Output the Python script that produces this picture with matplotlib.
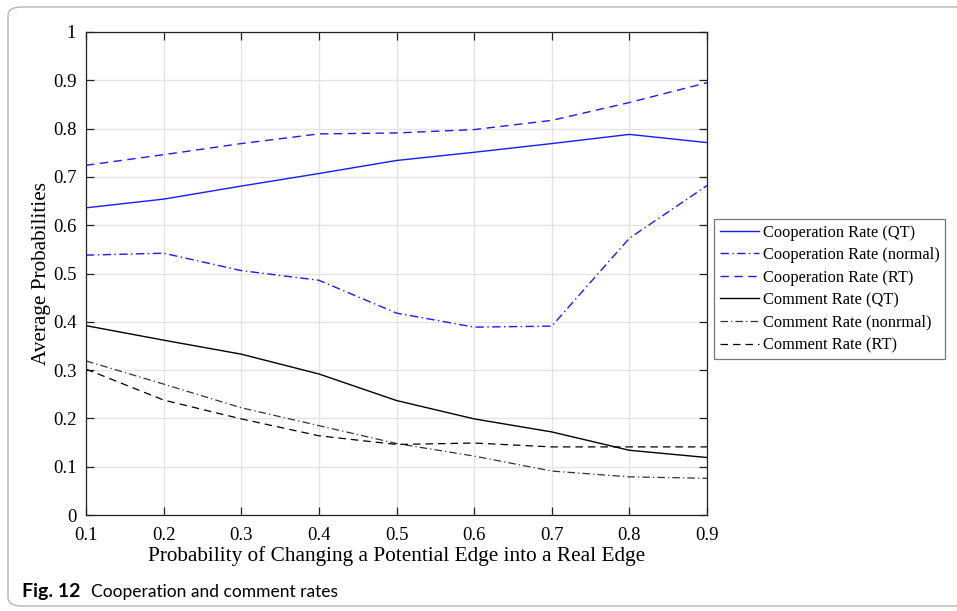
import matplotlib
matplotlib.use("Agg")
import matplotlib.pyplot as plt
from matplotlib.patches import FancyBboxPatch

# data
p_edge = [0.1, 0.2, 0.3, 0.4, 0.5, 0.6, 0.7, 0.8, 0.9]
coop_qt = [0.636, 0.654, 0.681, 0.707, 0.734, 0.751, 0.769, 0.788, 0.771]
coop_normal = [0.538, 0.542, 0.506, 0.486, 0.418, 0.389, 0.391, 0.573, 0.682]
coop_rt = [0.724, 0.746, 0.769, 0.789, 0.791, 0.798, 0.817, 0.854, 0.895]
comm_qt = [0.392, 0.362, 0.333, 0.292, 0.237, 0.199, 0.172, 0.134, 0.119]
comm_normal = [0.319, 0.271, 0.222, 0.185, 0.148, 0.122, 0.091, 0.079, 0.076]
comm_rt = [0.302, 0.238, 0.199, 0.164, 0.146, 0.149, 0.141, 0.141, 0.141]

y_ticks = [0, 0.1, 0.2, 0.3, 0.4, 0.5, 0.6, 0.7, 0.8, 0.9, 1]
y_labels = ["0", "0.1", "0.2", "0.3", "0.4", "0.5", "0.6", "0.7", "0.8", "0.9", "1"]

plt.rcParams["font.family"] = ["Liberation Serif", "DejaVu Serif"]

fig = plt.figure(figsize=(9.57, 6.11), dpi=100)
W, H = 957, 611
ax = fig.add_axes([86 / W, 1 - 515 / H, 621 / W, 483 / H])

blue = "#1a1aff"
ax.plot(p_edge, coop_qt, color=blue, lw=1.0, label="Cooperation Rate (QT)")
ax.plot(p_edge, coop_normal, color=blue, lw=1.0, ls=(0, (6, 2.5, 1, 2.5)), label="Cooperation Rate (normal)")
ax.plot(p_edge, coop_rt, color=blue, lw=1.0, ls=(0, (6, 4)), label="Cooperation Rate (RT)")
ax.plot(p_edge, comm_qt, color="black", lw=1.0, label="Comment Rate (QT)")
ax.plot(p_edge, comm_normal, color="#333333", lw=0.9, ls=(0, (6, 2.5, 1, 2.5)), label="Comment Rate (nonrmal)")
ax.plot(p_edge, comm_rt, color="black", lw=0.9, ls=(0, (6, 4)), label="Comment Rate (RT)")

ax.set_xlim(0.1, 0.9)
ax.set_ylim(0, 1)
ax.set_xticks(p_edge)
ax.set_xticklabels([f"{v:.1f}" for v in p_edge])
ax.set_yticks(y_ticks)
ax.set_yticklabels(y_labels)
ax.grid(True, color="#e3e3e3", lw=0.9)
ax.set_axisbelow(True)
ax.tick_params(direction="in", top=True, right=True, length=6, width=0.9,
               labelsize=13.5, colors="#222222", labelcolor="black")
ax.tick_params(axis="x", pad=9)
ax.tick_params(axis="y", pad=7)
for s in ax.spines.values():
    s.set_color("#222222")
    s.set_linewidth(0.9)

ax.set_xlabel("Probability of Changing a Potential Edge into a Real Edge", fontsize=15.3, labelpad=1)
ax.set_ylabel("Average Probabilities", fontsize=15.3, labelpad=1)

leg = ax.legend(loc="center left", bbox_to_anchor=(1.011, 0.468), fontsize=11.8,
                frameon=True, fancybox=False, handlelength=2.4, handletextpad=0.25,
                borderpad=0.35, labelspacing=0.4, borderaxespad=0)
leg.get_frame().set_edgecolor("#555555")
leg.get_frame().set_linewidth(0.9)

# caption and the rounded frame around the figure
fig.text(22 / W, 1 - 592 / H, "Fig. 12", fontsize=14, fontweight="bold",
         family=["Lato", "DejaVu Sans"], va="center")
fig.text(91 / W, 1 - 592 / H, "Cooperation and comment rates", fontsize=12.5,
         family=["Lato", "DejaVu Sans"], va="center")
frame = FancyBboxPatch((8 / W, 5 / H), 1.2, 1 - 12 / H, transform=fig.transFigure,
                       boxstyle="round,pad=0,rounding_size=0.014", fill=False,
                       edgecolor="#b5b5b5", lw=1.0)
fig.patches.append(frame)

fig.savefig("out.png", dpi=100)
